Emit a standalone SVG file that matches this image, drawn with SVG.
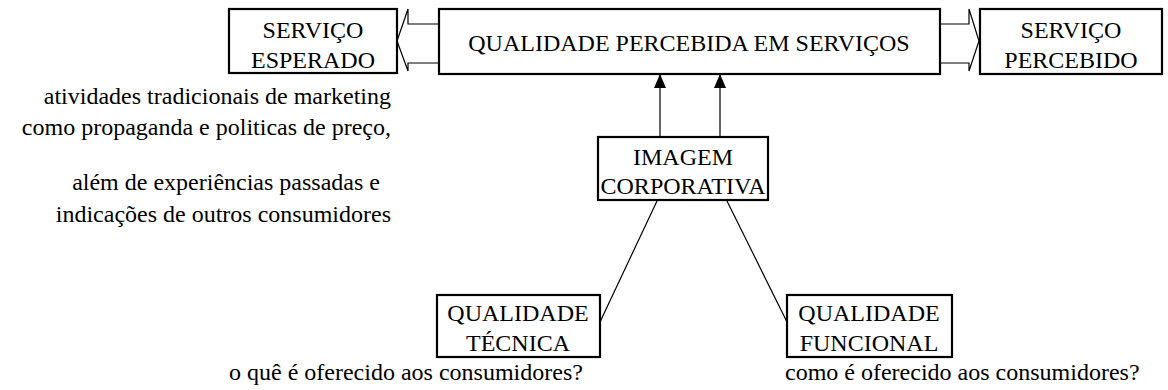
<svg xmlns="http://www.w3.org/2000/svg" width="1168" height="390" viewBox="0 0 1168 390">
<defs>
<marker id="ah" viewBox="0 0 14 12" refX="14" refY="6" markerWidth="14" markerHeight="12" markerUnits="userSpaceOnUse" orient="auto">
<path d="M0,0 L14,6 L0,12 Z" fill="#000"/>
</marker>
</defs>
<style>
.box{fill:#fff;stroke:#000;stroke-width:2.2}
text{font-family:'Liberation Serif','Times New Roman',Times,serif;font-size:24px;fill:#000}
.c{text-anchor:middle}
.r{text-anchor:end}
.ln{fill:none;stroke:#000;stroke-width:1.2}
.blk{fill:#fff;stroke:#000;stroke-width:1.2}
</style>
<g id="connectors">
<polygon class="blk" points="439,24 408,24 408,9 397,41 408,71 408,63 439,63"/>
<polygon class="blk" points="940,24 969,24 969,9 979,41 969,71 969,63 940,63"/>
<line class="ln" x1="660" y1="137" x2="660" y2="74" marker-end="url(#ah)"/>
<line class="ln" x1="720" y1="137" x2="720" y2="74" marker-end="url(#ah)"/>
<line class="ln" x1="657" y1="201" x2="600" y2="322"/>
<line class="ln" x1="727" y1="201" x2="787" y2="322"/>
</g>
<g id="servico-esperado">
<rect class="box" x="229" y="9" width="168" height="64"/>
<text class="c" x="313" y="38">SERVIÇO</text>
<text class="c" x="313" y="68">ESPERADO</text>
</g>
<g id="qualidade-percebida">
<rect class="box" x="439" y="9" width="501" height="65"/>
<text class="c" x="689" y="51">QUALIDADE PERCEBIDA EM SERVIÇOS</text>
</g>
<g id="servico-percebido">
<rect class="box" x="980" y="9" width="182" height="65"/>
<text class="c" x="1071" y="38">SERVIÇO</text>
<text class="c" x="1071" y="68">PERCEBIDO</text>
</g>
<g id="imagem-corporativa">
<rect class="box" x="598" y="137" width="170" height="63"/>
<text class="c" x="683" y="165">IMAGEM</text>
<text class="c" x="683" y="194">CORPORATIVA</text>
</g>
<g id="qualidade-tecnica">
<rect class="box" x="437" y="295" width="163" height="62"/>
<text class="c" x="518" y="321">QUALIDADE</text>
<text class="c" x="518" y="351">TÉCNICA</text>
</g>
<g id="qualidade-funcional">
<rect class="box" x="787" y="295" width="165" height="62"/>
<text class="c" x="869" y="321">QUALIDADE</text>
<text class="c" x="869" y="351">FUNCIONAL</text>
</g>
<g id="notes">
<text class="r" x="391" y="104">atividades tradicionais de marketing</text>
<text class="r" x="391" y="135">como propaganda e politicas de preço,</text>
<text class="r" x="380" y="190">além de experiências passadas e</text>
<text class="r" x="391" y="222">indicações de outros consumidores</text>
<text x="229" y="380">o quê é oferecido aos consumidores?</text>
<text x="785" y="380">como é oferecido aos consumidores?</text>
</g>
</svg>
